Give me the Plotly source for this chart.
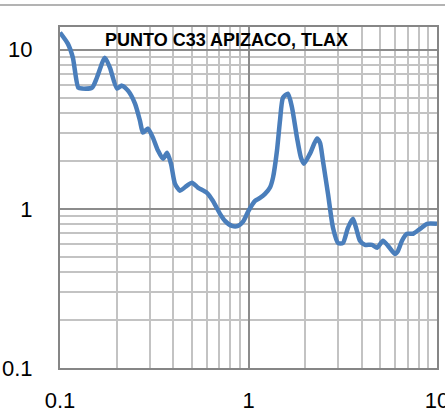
import plotly.graph_objects as go

# Frequency (Hz) and spectral ratio
freq = [0.100, 0.110, 0.117, 0.125, 0.131, 0.148, 0.157, 0.173, 0.184, 0.2005,
        0.213, 0.2295, 0.250, 0.2655, 0.2755, 0.293, 0.311, 0.331, 0.352, 0.370,
        0.388, 0.407, 0.433, 0.472, 0.501, 0.539, 0.602, 0.648, 0.706, 0.750,
        0.818, 0.880, 0.935, 1.000, 1.083, 1.151, 1.223, 1.300, 1.349, 1.416,
        1.469, 1.524, 1.620, 1.702, 1.808, 1.899, 1.970, 2.119, 2.307, 2.394,
        2.483, 2.641, 2.807, 2.985, 3.17, 3.37, 3.58, 3.72, 3.90, 4.15,
        4.52, 4.81, 5.17, 5.50, 5.98, 6.21, 6.52, 6.93, 7.46, 8.13,
        8.85, 10.0]
ratio = [12.8, 10.9, 8.9, 5.77, 5.69, 5.77, 6.67, 8.9, 7.7, 5.69,
         5.94, 5.52, 4.58, 3.58, 3.01, 3.19, 2.80, 2.32, 2.06, 2.25,
         1.92, 1.44, 1.30, 1.40, 1.46, 1.36, 1.26, 1.12, 0.93, 0.84,
         0.78, 0.78, 0.83, 0.97, 1.12, 1.17, 1.24, 1.36, 1.57, 2.32,
         3.58, 4.99, 5.29, 4.32, 2.80, 2.09, 1.92, 2.22, 2.76, 2.60,
         2.00, 1.24, 0.76, 0.61, 0.61, 0.76, 0.865, 0.76, 0.63, 0.594,
         0.594, 0.569, 0.63, 0.585, 0.521, 0.544, 0.63, 0.697, 0.697, 0.748,
         0.805, 0.805]

title_text = "PUNTO C33 APIZACO, TLAX"
major_ticks = [0.1, 1, 10]
major_labels = ["0.1", "1", "10"]
minor_ticks = [m * d for d in (0.1, 1, 10) for m in range(2, 10)]

line_color = "#4A7EBB"
major_grid = "#8C8C8C"
minor_grid = "#C3C3C3"
tick_font = dict(family="Liberation Sans", size=22, color="#000000")

fig = go.Figure(
    go.Scatter(
        x=freq, y=ratio, mode="lines",
        line=dict(color=line_color, width=4.5, shape="spline", smoothing=0.6),
        hoverinfo="skip",
    )
)

axis_common = dict(
    type="log",
    tickmode="array",
    tickvals=major_ticks,
    ticktext=major_labels,
    ticks="",
    showgrid=True,
    gridcolor=major_grid,
    gridwidth=1.5,
    minor=dict(tickmode="array", tickvals=minor_ticks, showgrid=True,
               gridcolor=minor_grid, gridwidth=1.5, ticks=""),
    showline=True,
    linecolor="#868686",
    linewidth=2,
    mirror=True,
    zeroline=False,
    tickfont=tick_font,
    fixedrange=True,
    automargin=False,
    ticklabeloverflow="allow",
)

fig.update_xaxes(range=[-1, 1], ticklabelstandoff=12, **axis_common)
fig.update_yaxes(range=[-1, 1.142], ticklabelstandoff=21, **axis_common)

fig.add_annotation(
    text=title_text, xref="paper", yref="paper",
    x=0.4416, y=0.963, xanchor="center", yanchor="middle",
    showarrow=False,
    font=dict(family="Liberation Sans", size=18, color="#000000", weight="bold"),
)

# Outer chart frame edge running across the top
fig.add_shape(type="line", xref="paper", yref="paper",
              x0=-0.2, x1=1.05, y0=1.0647, y1=1.0647,
              line=dict(color="#9A9A9A", width=1.5))

fig.update_layout(
    width=445, height=416,
    margin=dict(l=60, r=8, t=27, b=48),
    paper_bgcolor="white",
    plot_bgcolor="white",
    showlegend=False,
)

fig.write_html("out.html")
